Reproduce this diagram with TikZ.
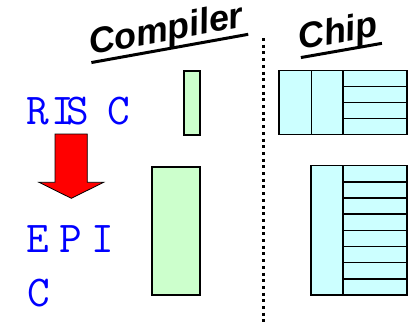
\documentclass[tikz,border=0pt]{standalone}
\usepackage{fontspec}
\setmainfont{Liberation Sans}
\definecolor{codegreen}{RGB}{204,255,204}
\definecolor{chipcyan}{RGB}{204,255,255}
\begin{document}
\begin{tikzpicture}[x=1pt,y=-1pt,
  title/.style={font=\fontsize{36}{36}\selectfont\bfseries\itshape, inner sep=0pt, anchor=base west},
  uline/.style={line width=3pt},
  letter/.style={font=\ttfamily\fontsize{44}{44}\selectfont, text=blue, inner sep=0pt, anchor=base},
  codebox/.style={draw=black, line width=2pt, fill=codegreen},
  chipbox/.style={draw=black, line width=1.4pt, fill=chipcyan},
  divider/.style={line width=3pt, dash pattern=on 3pt off 3.7pt}]
\useasboundingbox (0,0) rectangle (408,325);

% column headings
\node[title, rotate=10.4] (cmp) at (91,55) {Compiler};
\draw[uline] ([xshift=-1pt]cmp.south west) -- ([xshift=2pt]cmp.south east);
\node[title, rotate=10.2] (chp) at (300.5,50) {Chip};
\draw[uline] ([xshift=-1pt]chp.south west) -- ([xshift=1pt]chp.south east);

% dotted separator
\coordinate (sepT) at (263,38);
\coordinate (sepB) at (263,325);
\draw[divider] (sepT) -- (sepB);

% instruction set labels
\node[letter] (r1) at (37.5,124) {R};
\node[letter] (r2) at (62.5,124) {I};
\node[letter] (r3) at (77.5,124) {S};
\node[letter] (r4) at (118.5,124) {C};
\node[letter] (e1) at (38.3,252.5) {E};
\node[letter] (e2) at (71,252.5) {P};
\node[letter] (e3) at (103,252.5) {I};
\node[letter] (e4) at (39,306) {C};

% transition arrow
\draw[fill=red, draw=black, line width=0.8pt]
  (55,134) -- (87.3,134) -- (87.3,182.3) -- (103.7,182.3) -- (71.3,198.3)
  -- (39,182.3) -- (55,182.3) -- cycle;

% compiler work
\node[codebox, minimum width=16.6pt, minimum height=64.3pt, inner sep=0pt, anchor=north west] (c1) at (182.7,70) {};
\node[codebox, minimum width=48.3pt, minimum height=128.6pt, inner sep=0pt, anchor=north west] (c2) at (151,165.7) {};

% chip resources, RISC
\draw[chipbox] (279,70.7) rectangle (406.8,134.3);
\draw[chipbox] (311.3,70.7) -- (311.3,134.3);
\draw[chipbox] (343,70.7) -- (343,134.3);
\foreach \yy in {86.6,102.5,118.4}
  \draw[chipbox] (343,\yy) -- (406.8,\yy);

% chip resources, EPIC
\draw[chipbox] (311,165.7) rectangle (406.8,295);
\draw[chipbox] (343,165.7) -- (343,295);
\foreach \k in {1,...,7}
  \draw[chipbox] (343,{165.7+\k*16.16}) -- (406.8,{165.7+\k*16.16});
\end{tikzpicture}
\end{document}
